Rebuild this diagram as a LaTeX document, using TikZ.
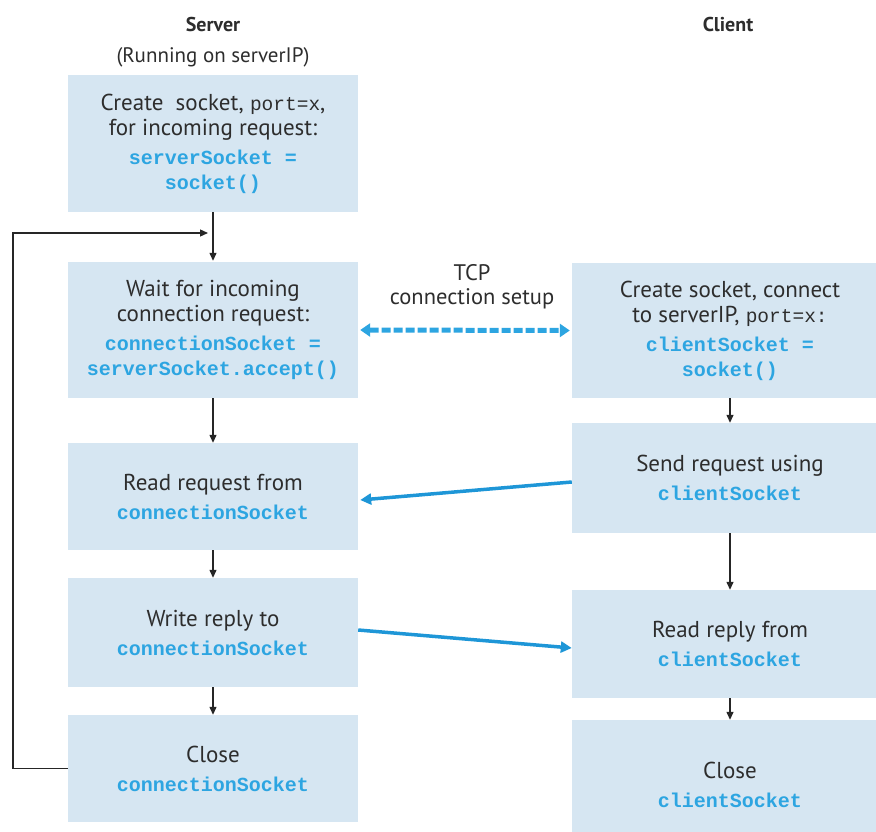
\documentclass[tikz,border=0pt]{standalone}
\usepackage{fontspec}
\setmainfont{PT Sans}
\setmonofont{Liberation Mono}
\usetikzlibrary{arrows.meta}
\definecolor{boxfill}{RGB}{214,230,242}
\definecolor{codeblue}{RGB}{45,165,225}
\definecolor{arrowblue}{RGB}{30,150,215}
\definecolor{txt}{RGB}{45,45,45}
\newcommand{\codetxt}[1]{{\fontsize{20}{24}\ttfamily\bfseries\color{codeblue}#1}}
\newcommand{\plaintt}[1]{{\fontsize{19.5}{24}\ttfamily #1}}
\begin{document}
\begin{tikzpicture}[x=1pt,y=-1pt,
  box/.style={fill=boxfill, draw=none, inner sep=0pt, align=center, text=txt,
    font=\fontsize{23}{25}\selectfont},
  sbox/.style={box, minimum width=290pt},
  cbox/.style={box, minimum width=316pt},
  hdr/.style={text=txt, font=\fontsize{21}{24}\selectfont},
  blk/.style={draw=black!85, line width=1.3pt, -{Triangle[length=8pt,width=7pt]}},
  bluearr/.style={draw=arrowblue, line width=3.5pt, -{Triangle[length=11pt,width=11pt]}},
  dasharr/.style={draw=codeblue, line width=5pt, dash pattern=on 9pt off 3pt,
    {Triangle[length=10pt,width=13pt]}-{Triangle[length=10pt,width=13pt]}}
]
\useasboundingbox (0,0) rectangle (876,832);
\clip (0,0) rectangle (876,832);

% headers
\node[hdr, font=\fontsize{20}{24}\selectfont\bfseries] (srvh) at (213,25) {Server};
\node[hdr] (srvsub) at (213,57) {(Running on serverIP)};
\node[hdr, font=\fontsize{20}{24}\selectfont\bfseries] (clih) at (728,25) {Client};

% server boxes
\node[sbox, minimum height=137pt] (s1) at (213,143.5)
  {Create\ \ socket, \plaintt{port=x},\\ for incoming request:\\[4pt]
   \codetxt{serverSocket =}\\ \codetxt{socket()}};
\node[sbox, minimum height=136pt] (s2) at (213,330)
  {Wait for incoming\\ connection request:\\[4pt]
   \codetxt{connectionSocket =}\\ \codetxt{serverSocket.accept()}};
\node[sbox, minimum height=107pt] (s3) at (213,496.5)
  {Read request from\\[4pt] \codetxt{connectionSocket}};
\node[sbox, minimum height=109pt] (s4) at (213,632.5)
  {Write reply to\\[4pt] \codetxt{connectionSocket}};
\node[sbox, minimum height=107pt] (s5) at (213,768.5)
  {Close\\[4pt] \codetxt{connectionSocket}};

% client boxes
\node[cbox, minimum height=135pt] (c1) at (730,330.5)
  {Create socket, connect\\ to serverIP, \plaintt{port=x:}\\[4pt]
   \codetxt{clientSocket =}\\ \codetxt{socket()}};
\node[cbox, minimum height=110pt] (c2) at (730,478)
  {Send request using\\[4pt] \codetxt{clientSocket}};
\node[cbox, minimum height=108pt] (c3) at (730,644)
  {Read reply from\\[4pt] \codetxt{clientSocket}};
\node[cbox, minimum height=130pt] (c4) at (730,785)
  {Close\\[4pt] \codetxt{clientSocket}};

% TCP label
\node[hdr, align=center, font=\fontsize{22.5}{24}\selectfont] (tcp) at (472,287)
  {TCP\\ connection setup};

% server flow
\draw[blk] (s1.south) -- ([yshift=1pt]s2.north);
\draw[blk] (s2.south) -- (s3.north);
\draw[blk] (s3.south) -- (s4.north);
\draw[blk] (s4.south) -- (s5.north);
\coordinate (loopend) at (208,233);
\draw[blk] (s5.west) -- (13,768.5) -- (13,233) -- (loopend);

% client flow
\draw[blk] (c1.south) -- (c2.north);
\draw[blk] (c2.south) -- (c3.north);
\draw[blk] (c3.south) -- (c4.north);

% messages
\draw[dasharr] ([xshift=2pt]s2.east) -- ([xshift=-2pt]c1.west);
\draw[bluearr] ([yshift=-4pt]c2.west) -- ([xshift=2pt,yshift=-3.5pt]s3.east);
\draw[bluearr] ([yshift=2.5pt]s4.east) -- ([yshift=-4pt]c3.west);
\end{tikzpicture}
\end{document}
